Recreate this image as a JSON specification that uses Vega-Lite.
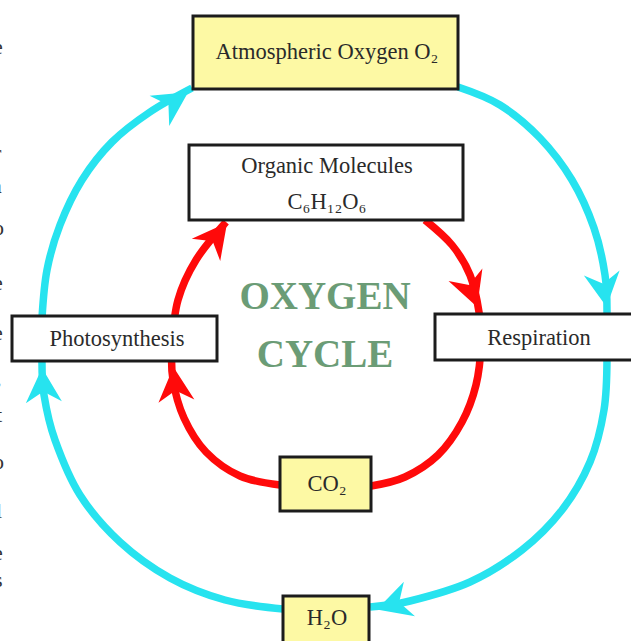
{
  "$schema": "https://vega.github.io/schema/vega-lite/v6.json",
  "width": 631,
  "height": 641,
  "autosize": {"type": "fit", "contains": "padding"},
  "padding": 0,
  "background": "white",
  "config": {"view": {"stroke": null}},
  "datasets": {
    "paths": [
      {"seg": "c1", "cycle": "oxygen", "ord": 1, "x": 42, "y": 318},
      {"seg": "c1", "cycle": "oxygen", "ord": 2, "x": 47, "y": 270},
      {"seg": "c1", "cycle": "oxygen", "ord": 3, "x": 60, "y": 225},
      {"seg": "c1", "cycle": "oxygen", "ord": 4, "x": 82, "y": 180},
      {"seg": "c1", "cycle": "oxygen", "ord": 5, "x": 112, "y": 142},
      {"seg": "c1", "cycle": "oxygen", "ord": 6, "x": 150, "y": 112},
      {"seg": "c1", "cycle": "oxygen", "ord": 7, "x": 192, "y": 88},
      {"seg": "c2", "cycle": "oxygen", "ord": 1, "x": 458, "y": 87},
      {"seg": "c2", "cycle": "oxygen", "ord": 2, "x": 500, "y": 105},
      {"seg": "c2", "cycle": "oxygen", "ord": 3, "x": 540, "y": 138},
      {"seg": "c2", "cycle": "oxygen", "ord": 4, "x": 572, "y": 180},
      {"seg": "c2", "cycle": "oxygen", "ord": 5, "x": 594, "y": 228},
      {"seg": "c2", "cycle": "oxygen", "ord": 6, "x": 605, "y": 275},
      {"seg": "c2", "cycle": "oxygen", "ord": 7, "x": 607, "y": 315},
      {"seg": "c3", "cycle": "oxygen", "ord": 1, "x": 607, "y": 358},
      {"seg": "c3", "cycle": "oxygen", "ord": 2, "x": 604, "y": 410},
      {"seg": "c3", "cycle": "oxygen", "ord": 3, "x": 590, "y": 462},
      {"seg": "c3", "cycle": "oxygen", "ord": 4, "x": 562, "y": 510},
      {"seg": "c3", "cycle": "oxygen", "ord": 5, "x": 522, "y": 550},
      {"seg": "c3", "cycle": "oxygen", "ord": 6, "x": 470, "y": 582},
      {"seg": "c3", "cycle": "oxygen", "ord": 7, "x": 410, "y": 601},
      {"seg": "c3", "cycle": "oxygen", "ord": 8, "x": 370, "y": 607},
      {"seg": "c4", "cycle": "oxygen", "ord": 1, "x": 283, "y": 609},
      {"seg": "c4", "cycle": "oxygen", "ord": 2, "x": 225, "y": 600},
      {"seg": "c4", "cycle": "oxygen", "ord": 3, "x": 170, "y": 578},
      {"seg": "c4", "cycle": "oxygen", "ord": 4, "x": 120, "y": 542},
      {"seg": "c4", "cycle": "oxygen", "ord": 5, "x": 80, "y": 495},
      {"seg": "c4", "cycle": "oxygen", "ord": 6, "x": 55, "y": 440},
      {"seg": "c4", "cycle": "oxygen", "ord": 7, "x": 44, "y": 395},
      {"seg": "c4", "cycle": "oxygen", "ord": 8, "x": 42, "y": 360},
      {"seg": "r1", "cycle": "carbon", "ord": 1, "x": 280, "y": 485},
      {"seg": "r1", "cycle": "carbon", "ord": 2, "x": 240, "y": 476},
      {"seg": "r1", "cycle": "carbon", "ord": 3, "x": 206, "y": 452},
      {"seg": "r1", "cycle": "carbon", "ord": 4, "x": 184, "y": 418},
      {"seg": "r1", "cycle": "carbon", "ord": 5, "x": 173, "y": 380},
      {"seg": "r1", "cycle": "carbon", "ord": 6, "x": 172, "y": 345},
      {"seg": "r1", "cycle": "carbon", "ord": 7, "x": 178, "y": 300},
      {"seg": "r1", "cycle": "carbon", "ord": 8, "x": 196, "y": 260},
      {"seg": "r1", "cycle": "carbon", "ord": 9, "x": 226, "y": 222},
      {"seg": "r2", "cycle": "carbon", "ord": 1, "x": 425, "y": 220},
      {"seg": "r2", "cycle": "carbon", "ord": 2, "x": 452, "y": 245},
      {"seg": "r2", "cycle": "carbon", "ord": 3, "x": 470, "y": 275},
      {"seg": "r2", "cycle": "carbon", "ord": 4, "x": 479, "y": 312},
      {"seg": "r2", "cycle": "carbon", "ord": 5, "x": 481, "y": 345},
      {"seg": "r2", "cycle": "carbon", "ord": 6, "x": 476, "y": 385},
      {"seg": "r2", "cycle": "carbon", "ord": 7, "x": 462, "y": 422},
      {"seg": "r2", "cycle": "carbon", "ord": 8, "x": 438, "y": 455},
      {"seg": "r2", "cycle": "carbon", "ord": 9, "x": 405, "y": 477},
      {"seg": "r2", "cycle": "carbon", "ord": 10, "x": 371, "y": 486}
    ],
    "heads": [
      {"cycle": "oxygen", "x": 173, "y": 102, "dir": 57},
      {"cycle": "oxygen", "x": 604, "y": 289, "dir": 172},
      {"cycle": "oxygen", "x": 394, "y": 604, "dir": 252},
      {"cycle": "oxygen", "x": 43, "y": 386, "dir": 357},
      {"cycle": "carbon", "x": 216, "y": 237, "dir": 38},
      {"cycle": "carbon", "x": 471, "y": 290, "dir": 160},
      {"cycle": "carbon", "x": 175, "y": 385, "dir": 355}
    ],
    "boxes": [
      {"name": "Atmospheric Oxygen", "kind": "pool", "x0": 193, "x1": 458, "y0": 16, "y1": 89},
      {"name": "Organic Molecules", "kind": "process", "x0": 189, "x1": 463, "y0": 145, "y1": 220},
      {"name": "Photosynthesis", "kind": "process", "x0": 12, "x1": 217, "y0": 316, "y1": 361},
      {"name": "Respiration", "kind": "process", "x0": 435, "x1": 640, "y0": 314, "y1": 360},
      {"name": "CO2", "kind": "pool", "x0": 280, "x1": 371, "y0": 457, "y1": 511},
      {"name": "H2O", "kind": "pool", "x0": 283, "x1": 369, "y0": 596, "y1": 650}
    ],
    "labels": [
      {"text": "Atmospheric  Oxygen  O₂", "x": 327, "y": 52, "role": "label"},
      {"text": "Organic  Molecules", "x": 327, "y": 166, "role": "label"},
      {"text": "C₆H₁₂O₆", "x": 327, "y": 202, "role": "label"},
      {"text": "Photosynthesis", "x": 117, "y": 339, "role": "label"},
      {"text": "Respiration", "x": 539, "y": 338, "role": "label"},
      {"text": "CO₂", "x": 327, "y": 484, "role": "label"},
      {"text": "H₂O", "x": 327, "y": 618, "role": "label"},
      {"text": "OXYGEN", "x": 325, "y": 297, "role": "title"},
      {"text": "CYCLE", "x": 325, "y": 355, "role": "title"}
    ],
    "fragments": [
      {"t": "e", "x": -7, "y": 47},
      {"t": "r", "x": -6, "y": 153},
      {"t": "a", "x": -8, "y": 186},
      {"t": "o", "x": -7, "y": 228},
      {"t": "e", "x": -7, "y": 283},
      {"t": "e", "x": -7, "y": 333},
      {"t": ",", "x": -4, "y": 378},
      {"t": "t", "x": -4, "y": 415},
      {"t": "o", "x": -7, "y": 462},
      {"t": "l", "x": -4, "y": 511},
      {"t": "e", "x": -7, "y": 553},
      {"t": "s", "x": -6, "y": 580}
    ]
  },
  "layer": [
    {
      "data": {"name": "paths"},
      "mark": {"type": "line", "strokeWidth": 7.5, "interpolate": "cardinal", "clip": true},
      "encoding": {
        "x": {"field": "x", "type": "quantitative", "scale": {"domain": [0, 631], "nice": false, "zero": false}, "axis": null},
        "y": {"field": "y", "type": "quantitative", "scale": {"domain": [0, 641], "nice": false, "zero": false, "reverse": true}, "axis": null},
        "detail": {"field": "seg"},
        "order": {"field": "ord", "type": "quantitative"},
        "color": {"field": "cycle", "type": "nominal", "scale": {"domain": ["oxygen", "carbon"], "range": ["#27e3ef", "#ff0a0a"]}, "legend": null}
      }
    },
    {
      "data": {"name": "heads"},
      "mark": {"type": "point", "filled": true, "opacity": 1, "size": 1300, "shape": "M0,-1L1,0.9L0,0.3L-1,0.9Z", "clip": true},
      "encoding": {
        "x": {"field": "x", "type": "quantitative", "scale": {"domain": [0, 631], "nice": false, "zero": false}, "axis": null},
        "y": {"field": "y", "type": "quantitative", "scale": {"domain": [0, 641], "nice": false, "zero": false, "reverse": true}, "axis": null},
        "angle": {"field": "dir", "type": "quantitative", "scale": null},
        "color": {"field": "cycle", "type": "nominal", "scale": {"domain": ["oxygen", "carbon"], "range": ["#27e3ef", "#ff0a0a"]}, "legend": null}
      }
    },
    {
      "data": {"name": "boxes"},
      "mark": {"type": "rect", "stroke": "#1c1c1c", "strokeWidth": 3, "clip": true},
      "encoding": {
        "x": {"field": "x0", "type": "quantitative", "scale": {"domain": [0, 631], "nice": false, "zero": false}, "axis": null},
        "x2": {"field": "x1"},
        "y": {"field": "y0", "type": "quantitative", "scale": {"domain": [0, 641], "nice": false, "zero": false, "reverse": true}, "axis": null},
        "y2": {"field": "y1"},
        "fill": {"field": "kind", "type": "nominal", "scale": {"domain": ["pool", "process"], "range": ["#fdf9a4", "#ffffff"]}, "legend": null}
      }
    },
    {
      "data": {"name": "labels"},
      "transform": [{"filter": "datum.role == 'label'"}],
      "mark": {"type": "text", "font": "Liberation Serif", "fontSize": 22.5, "color": "#2a2a2a", "align": "center", "baseline": "middle"},
      "encoding": {
        "x": {"field": "x", "type": "quantitative", "scale": {"domain": [0, 631], "nice": false, "zero": false}, "axis": null},
        "y": {"field": "y", "type": "quantitative", "scale": {"domain": [0, 641], "nice": false, "zero": false, "reverse": true}, "axis": null},
        "text": {"field": "text"}
      }
    },
    {
      "data": {"name": "labels"},
      "transform": [{"filter": "datum.role == 'title'"}],
      "mark": {"type": "text", "font": "Liberation Serif", "fontSize": 39, "fontWeight": "bold", "color": "#6b9c76", "align": "center", "baseline": "middle"},
      "encoding": {
        "x": {"field": "x", "type": "quantitative", "scale": {"domain": [0, 631], "nice": false, "zero": false}, "axis": null},
        "y": {"field": "y", "type": "quantitative", "scale": {"domain": [0, 641], "nice": false, "zero": false, "reverse": true}, "axis": null},
        "text": {"field": "text"}
      }
    },
    {
      "data": {"name": "fragments"},
      "mark": {"type": "text", "font": "Liberation Serif", "fontSize": 22, "color": "#333333", "align": "left", "baseline": "middle", "clip": true},
      "encoding": {
        "x": {"field": "x", "type": "quantitative", "scale": {"domain": [0, 631], "nice": false, "zero": false}, "axis": null},
        "y": {"field": "y", "type": "quantitative", "scale": {"domain": [0, 641], "nice": false, "zero": false, "reverse": true}, "axis": null},
        "text": {"field": "t"}
      }
    }
  ]
}
